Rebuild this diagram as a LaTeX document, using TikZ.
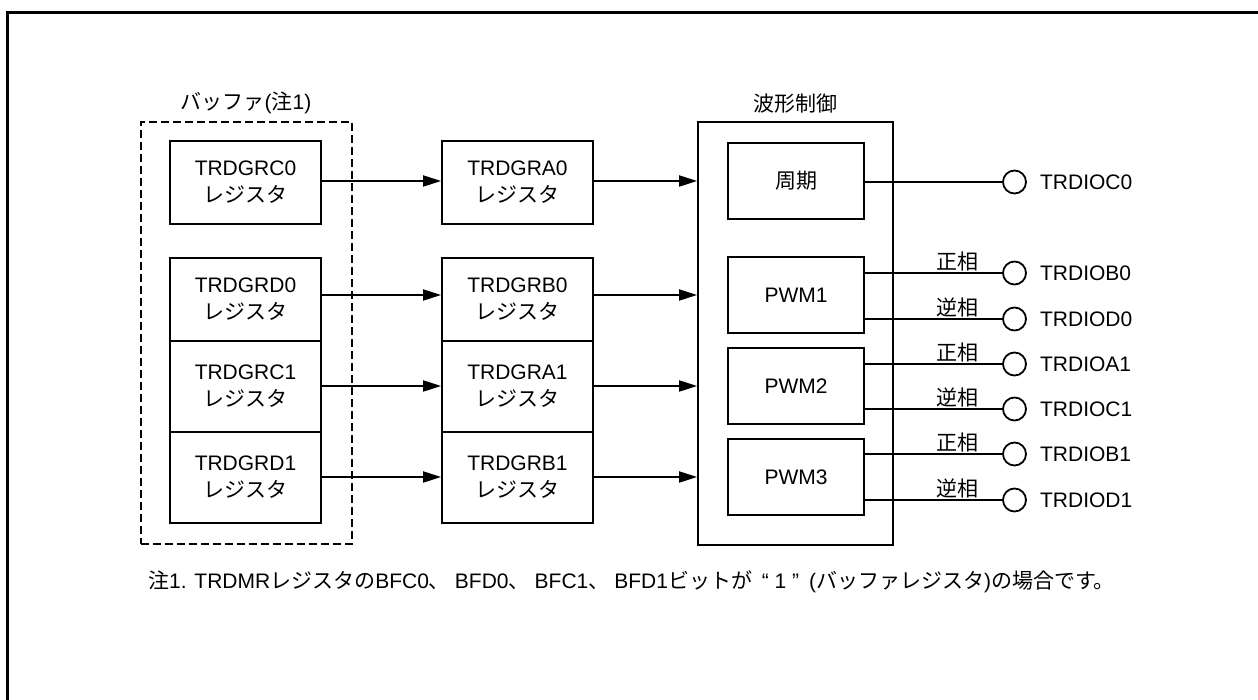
\documentclass[tikz,border=0pt]{standalone}
\usepackage{fontspec}
\setmainfont{Liberation Sans}
\newfontfamily\jp{Noto Sans CJK JP}
\usetikzlibrary{arrows.meta}
\begin{document}
\begin{tikzpicture}[x=1pt,y=-1pt,
  txt/.style={font=\fontsize{21}{27}\selectfont, inner sep=0pt},
  reg/.style={draw, line width=1.8pt, minimum width=151pt, align=center,
              font=\fontsize{21}{27}\selectfont, inner sep=0pt},
  inbox/.style={draw, line width=1.8pt, minimum width=136pt, minimum height=76pt,
              font=\fontsize{21}{27}\selectfont, inner sep=0pt},
  pin/.style={draw, circle, line width=1.8pt, minimum size=23pt, inner sep=0pt},
  conn/.style={line width=1.8pt},
  arr/.style={line width=1.8pt, -{Triangle[length=18pt,width=11pt]}}
]
\useasboundingbox (0,0) rectangle (1258,700);
% frame
\draw[line width=3pt] (1258,12.5) -- (7.5,12.5) -- (7.5,700);

% buffer group
\node[draw, line width=2.8pt, dash pattern=on 8pt off 4pt,
      minimum width=211pt, minimum height=422pt, inner sep=0pt] (buf) at (246.5,333) {};
\node[txt] (buflbl) at (246,103) {{\jp バッファ}({\jp 注}1)};

\node[reg, minimum height=83pt] (C0) at (245.5,182.5) {TRDGRC0\\{\jp レジスタ}};
\node[reg, minimum height=83pt] (D0) at (245.5,299.5) {TRDGRD0\\{\jp レジスタ}};
\node[reg, minimum height=91pt] (C1) at (245.5,386.5) {TRDGRC1\\{\jp レジスタ}};
\node[reg, minimum height=91pt] (D1) at (245.5,477.5) {TRDGRD1\\{\jp レジスタ}};

\node[reg, minimum height=83pt] (A0) at (517.5,182.5) {TRDGRA0\\{\jp レジスタ}};
\node[reg, minimum height=83pt] (B0) at (517.5,299.5) {TRDGRB0\\{\jp レジスタ}};
\node[reg, minimum height=91pt] (A1) at (517.5,386.5) {TRDGRA1\\{\jp レジスタ}};
\node[reg, minimum height=91pt] (B1) at (517.5,477.5) {TRDGRB1\\{\jp レジスタ}};

% waveform control
\node[draw, line width=1.8pt, minimum width=195pt, minimum height=423pt, inner sep=0pt] (wf) at (795.5,333.5) {};
\node[txt] (wflbl) at (795.5,104) {\jp 波形制御};

\node[inbox] (per) at (796,181) {\jp 周期};
\node[inbox] (P1) at (796,295) {PWM1};
\node[inbox] (P2) at (796,386) {PWM2};
\node[inbox] (P3) at (796,477) {PWM3};

% arrows buffer -> registers
\draw[arr] (C0.east |- per) -- (A0.west |- per);
\draw[arr] (D0.east |- P1) -- (B0.west |- P1);
\draw[arr] (C1.east |- P2) -- (A1.west |- P2);
\draw[arr] (D1.east |- P3) -- (B1.west |- P3);
% arrows registers -> waveform
\draw[arr] (A0.east |- per) -- (wf.west |- per);
\draw[arr] (B0.east |- P1) -- (wf.west |- P1);
\draw[arr] (A1.east |- P2) -- (wf.west |- P2);
\draw[arr] (B1.east |- P3) -- (wf.west |- P3);

% output pins
\node[pin] (o0) at (1014.5,182) {};
\node[pin] (o1) at (1014.5,273) {};
\node[pin] (o2) at (1014.5,319) {};
\node[pin] (o3) at (1014.5,364) {};
\node[pin] (o4) at (1014.5,409) {};
\node[pin] (o5) at (1014.5,454) {};
\node[pin] (o6) at (1014.5,500) {};

\node[txt, anchor=west] (t0) at ([xshift=13pt]o0.east) {TRDIOC0};
\node[txt, anchor=west] (t1) at ([xshift=13pt]o1.east) {TRDIOB0};
\node[txt, anchor=west] (t2) at ([xshift=13pt]o2.east) {TRDIOD0};
\node[txt, anchor=west] (t3) at ([xshift=13pt]o3.east) {TRDIOA1};
\node[txt, anchor=west] (t4) at ([xshift=13pt]o4.east) {TRDIOC1};
\node[txt, anchor=west] (t5) at ([xshift=13pt]o5.east) {TRDIOB1};
\node[txt, anchor=west] (t6) at ([xshift=13pt]o6.east) {TRDIOD1};

\draw[conn] (per.east |- o0) -- (o0.west);
\draw[conn] (P1.east |- o1) -- (o1.west);
\draw[conn] (P1.east |- o2) -- (o2.west);
\draw[conn] (P2.east |- o3) -- (o3.west);
\draw[conn] (P2.east |- o4) -- (o4.west);
\draw[conn] (P3.east |- o5) -- (o5.west);
\draw[conn] (P3.east |- o6) -- (o6.west);

\node[txt, anchor=south] (ph1) at (957,271) {\jp 正相};
\node[txt, anchor=south] (ph2) at (957,317) {\jp 逆相};
\node[txt, anchor=south] (ph3) at (957,362) {\jp 正相};
\node[txt, anchor=south] (ph4) at (957,407) {\jp 逆相};
\node[txt, anchor=south] (ph5) at (957,452) {\jp 正相};
\node[txt, anchor=south] (ph6) at (957,498) {\jp 逆相};

% note
\node[txt, anchor=west] (note) at (148,582) {{\jp 注}1. TRDMR{\jp レジスタの}BFC0{\jp 、}\hspace{5pt}BFD0{\jp 、}\hspace{5pt}BFC1{\jp 、}\hspace{5pt}BFD1{\jp ビットが}\hspace{4pt} “ 1 ” \hspace{4pt}({\jp バッファレジスタ}){\jp の場合です。}};
\end{tikzpicture}
\end{document}
